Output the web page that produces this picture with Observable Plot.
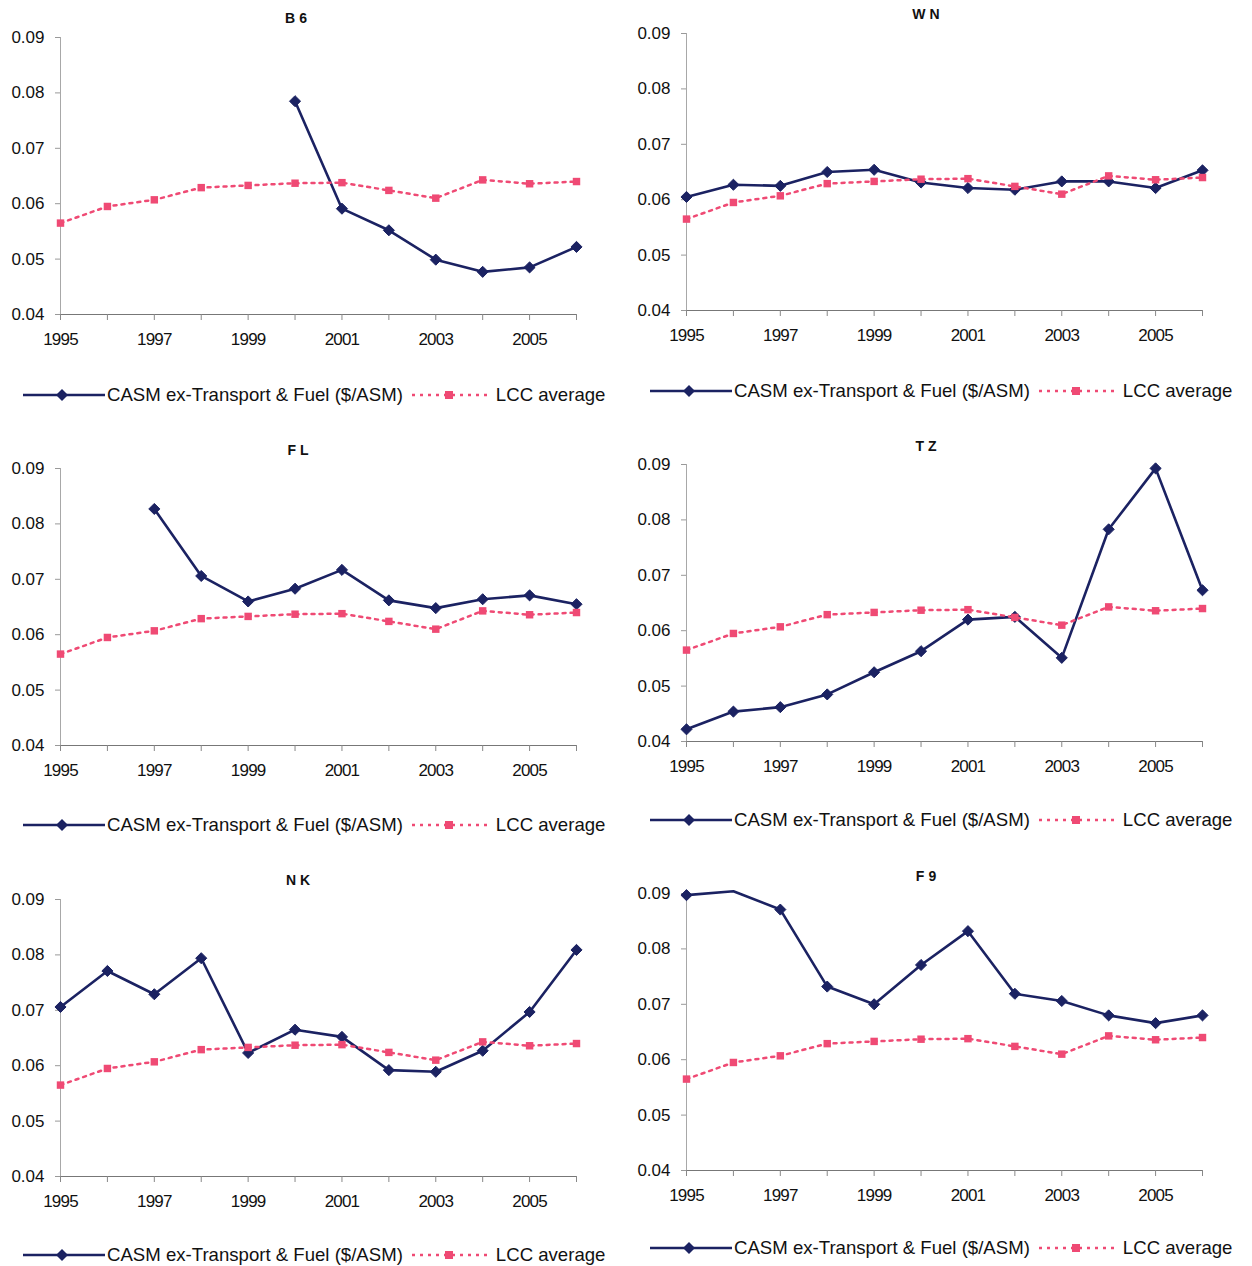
<!DOCTYPE html>
<html><head><meta charset="utf-8">
<script src="https://cdn.jsdelivr.net/npm/d3@7"></script>
<script src="https://cdn.jsdelivr.net/npm/@observablehq/plot@0.6"></script>
<style>
body{margin:0;background:#fff;font-family:"Liberation Sans",Arial,sans-serif;color:#111;}
#root{position:relative;width:1252px;height:1266px;overflow:hidden;background:#fff;}
.panel{position:absolute;}
.title{position:absolute;font-weight:bold;font-size:14px;letter-spacing:4px;transform:translate(-50%,-50%);white-space:nowrap;}
.legend{position:absolute;display:flex;align-items:center;font-size:18.6px;white-space:nowrap;transform:translateY(-50%);}
.legend svg{display:block;}
svg [aria-label="x-axis tick label"] text{letter-spacing:-0.8px;}
</style></head><body><div id="root"></div>
<script>
const years = [1995,1996,1997,1998,1999,2000,2001,2002,2003,2004,2005,2006];
const yTicks = [0.04,0.05,0.06,0.07,0.08,0.09];
const lccAverage = [0.0565,0.0595,0.0607,0.0629,0.0633,0.0637,0.0638,0.0624,0.0610,0.0643,0.0636,0.0640];
const casmB6 = [null,null,null,null,null,0.0785,0.0591,0.0552,0.0499,0.0477,0.0485,0.0522];
const casmWN = [0.0605,0.0627,0.0625,0.0650,0.0654,0.0631,0.0621,0.0618,0.0633,0.0633,0.0621,0.0653];
const casmFL = [null,null,0.0827,0.0706,0.0660,0.0683,0.0717,0.0662,0.0648,0.0664,0.0671,0.0655];
const casmTZ = [0.0422,0.0454,0.0462,0.0485,0.0525,0.0563,0.0620,0.0625,0.0551,0.0783,0.0893,0.0673];
const casmNK = [0.0706,0.0771,0.0729,0.0794,0.0623,0.0665,0.0652,0.0592,0.0589,0.0627,0.0697,0.0809];
const casmF9 = [0.0897,0.0904,0.0871,0.0732,0.0700,0.0771,0.0832,0.0719,0.0706,0.0680,0.0666,0.0680];
const seriesNames = ["CASM ex-Transport & Fuel ($/ASM)", "LCC average"];

const navy = "#1b2262";
const pink = "#ef4a74";

const panels = [
  {name:"B6", values:casmB6, left:0,   plotTop:37,  titleX:298, titleY:18,  legendX:23,  legendY:395},
  {name:"WN", values:casmWN, left:626, plotTop:33,  titleX:928, titleY:14,  legendX:650, legendY:391},
  {name:"FL", values:casmFL, left:0,   plotTop:468, titleX:300, titleY:450, legendX:23,  legendY:825},
  {name:"TZ", values:casmTZ, left:626, plotTop:464, titleX:928, titleY:446, legendX:650, legendY:820},
  {name:"NK", values:casmNK, left:0,   plotTop:899, titleX:300, titleY:880, legendX:23,  legendY:1255},
  {name:"F9", values:casmF9, left:626, plotTop:893, titleX:928, titleY:876, legendX:650, legendY:1248}
];

const root = document.getElementById("root");
const mt = 12, ph = 277, mb = 40;

for (const p of panels) {
  const casm = years.map((y,i)=>({year:y, v:p.values[i]})).filter(d=>d.v!=null);
  const lcc = years.map((y,i)=>({year:y, v:lccAverage[i]}));
  const chart = Plot.plot({
    width: 620, height: mt+ph+mb,
    marginLeft: 60, marginRight: 44, marginTop: mt, marginBottom: mb,
    style: {fontFamily: '"Liberation Sans", Arial, sans-serif', fontSize: "17px", color: "#111", overflow: "visible", background: "transparent"},
    x: {domain: [1995, 2006], type: "linear"},
    y: {domain: [0.04, 0.09]},
    marks: [
      Plot.frame({anchor: "left", stroke: "#a8a8a8"}),
      Plot.frame({anchor: "bottom", stroke: "#777"}),
      Plot.axisY({ticks: yTicks, tickFormat: d3.format(".2f"), tickSize: 5, tickPadding: 11, stroke: "#999", fill: "#111", fontSize: 17, label: null}),
      Plot.axisX({ticks: years, tickFormat: d => d % 2 ? String(d) : "", tickSize: 6, tickPadding: 12, stroke: "#888", fill: "#111", fontSize: 17, label: null}),
      Plot.line(casm, {x: "year", y: "v", stroke: navy, strokeWidth: 2.6}),
      Plot.dot(casm.filter(d => d.v <= 0.09), {x: "year", y: "v", symbol: "diamond2", r: 5, fill: navy, stroke: navy, strokeWidth: 1}),
      Plot.line(lcc, {x: "year", y: "v", stroke: pink, strokeWidth: 2.5, strokeDasharray: "3,5"}),
      Plot.dot(lcc, {x: "year", y: "v", symbol: "square", r: 4.2, fill: pink})
    ]
  });
  chart.classList.add("panel");
  chart.style.left = p.left + "px";
  chart.style.top = (p.plotTop - mt) + "px";
  root.appendChild(chart);

  const t = document.createElement("div");
  t.className = "title";
  t.style.left = p.titleX + "px";
  t.style.top = p.titleY + "px";
  t.textContent = p.name;
  root.appendChild(t);

  const lg = document.createElement("div");
  lg.className = "legend";
  lg.style.left = p.legendX + "px";
  lg.style.top = p.legendY + "px";
  const s1 = `<svg width="82" height="16"><line x1="0" y1="8" x2="82" y2="8" stroke="${navy}" stroke-width="2.6"/><path d="M39 2 L45 8 L39 14 L33 8Z" fill="${navy}"/></svg>`;
  const s2 = `<svg width="78" height="16"><line x1="0" y1="8" x2="78" y2="8" stroke="${pink}" stroke-width="2.5" stroke-dasharray="3,5"/><rect x="33" y="4" width="8" height="8" fill="${pink}"/></svg>`;
  lg.innerHTML = s1 + '<span style="margin-left:2px"></span>' + '<span style="display:inline-block;width:9px"></span>' + s2 + '<span style="margin-left:6px"></span>';
  const spans = lg.querySelectorAll("span");
  spans[0].textContent = seriesNames[0];
  spans[2].textContent = seriesNames[1];
  root.appendChild(lg);
}
</script></body></html>
